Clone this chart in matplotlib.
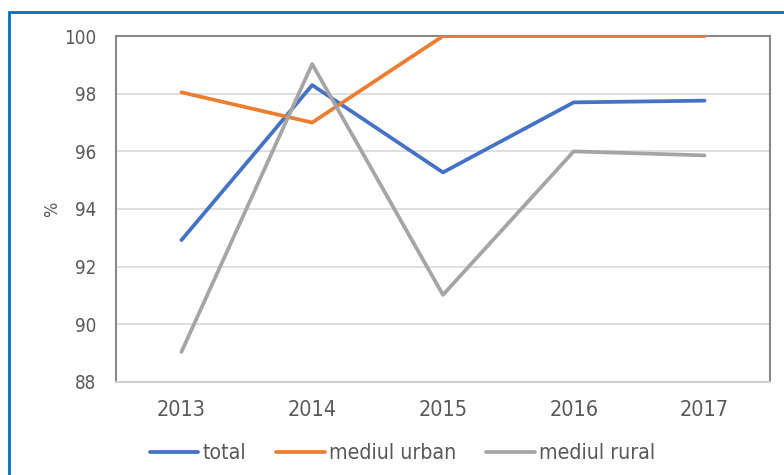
import matplotlib
matplotlib.use("Agg")
from matplotlib import pyplot as plt
from matplotlib.patches import Rectangle

plt.rcParams['font.family'] = ['DejaVu Sans']
plt.rcParams['font.stretch'] = 'condensed'

years = ['2013', '2014', '2015', '2016', '2017']
total = [92.92, 98.3, 95.27, 97.7, 97.76]
urban = [98.05, 97.0, 100.0, 100.0, 100.0]
rural = [89.04, 99.03, 91.02, 96.0, 95.86]

fig = plt.figure(figsize=(7.84, 4.75), dpi=100)
ax = fig.add_axes([0.148, 0.196, 0.834, 0.728])

x = range(len(years))
ax.plot(x, total, color='#4472C4', lw=2.7, label='total', solid_capstyle='round', zorder=3)
ax.plot(x, urban, color='#ED7D31', lw=2.7, label='mediul urban', solid_capstyle='round', zorder=3)
ax.plot(x, rural, color='#A5A5A5', lw=2.7, label='mediul rural', solid_capstyle='round', zorder=3)

ax.set_xlim(-0.5, 4.5)
ax.set_ylim(88, 100)
ax.set_xticks(list(x))
ax.set_xticklabels(years)
ax.set_yticks(range(88, 101, 2))
ax.grid(axis='y', color='#D9D9D9', lw=1.2)
ax.set_axisbelow(True)
ax.tick_params(length=0, labelcolor='#595959')
ax.tick_params(axis='x', labelsize=15.5, pad=13)
ax.tick_params(axis='y', labelsize=13.5, pad=14)

for s in ['left', 'top', 'right']:
    ax.spines[s].set_color('#898989')
    ax.spines[s].set_linewidth(1.5)
ax.spines['bottom'].set_color('#D0D0D0')
ax.spines['bottom'].set_linewidth(1.5)

ax.set_ylabel('%', fontsize=13, color='#595959', labelpad=2)

ax.legend(loc='center', bbox_to_anchor=(402.5 / 784, 0.046), bbox_transform=fig.transFigure,
          ncol=3, frameon=False, fontsize=15.3, labelcolor='#595959',
          handlelength=2.3, handletextpad=0.2, columnspacing=1.4)

fig.patches.append(Rectangle((0.0115, -0.05), 1.1, 0.025 + 1.0, transform=fig.transFigure,
                             fill=False, edgecolor='#0070C0', lw=2, figure=fig))

fig.savefig('out.png', dpi=100)
